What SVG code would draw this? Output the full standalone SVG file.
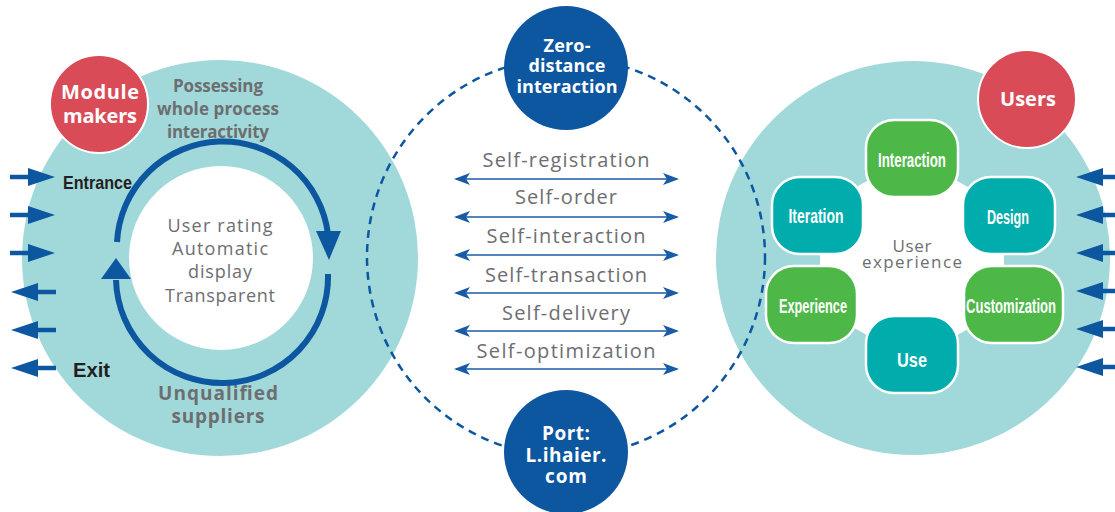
<svg xmlns="http://www.w3.org/2000/svg" width="1115" height="512" viewBox="0 0 1115 512">
<defs>
<style>
.teal{fill:#a1d9da}
.red{fill:#d94b57;stroke:#fff;stroke-width:2}
.navy{fill:#0d56a0}
.wt{fill:#fff;font-family:"Open Sans","Liberation Sans",sans-serif;font-weight:bold;text-anchor:middle}
.gr{fill:#6d6e71;font-family:"Open Sans","Liberation Sans",sans-serif;text-anchor:middle}
.grb{fill:#6d6e71;font-family:"Open Sans","Liberation Sans",sans-serif;font-weight:bold;text-anchor:middle}
.bk{fill:#231f20;font-family:"Liberation Sans",sans-serif;font-weight:bold}
.box{stroke:#fff;stroke-width:2.5}
.g{fill:#4db848}
.t{fill:#00adac}
.bx{fill:#fff;font-family:"Liberation Sans",sans-serif;font-weight:bold;text-anchor:middle;font-size:21px}
.dl{stroke:#1a5ba6;stroke-width:1.6;fill:none;marker-start:url(#ah);marker-end:url(#ah)}
.ring{stroke:#0d56a0;stroke-width:6;fill:none}
.sa{stroke:#0d56a0;stroke-width:4.5;fill:none}
</style>
<marker id="ah" viewBox="0 0 16 12" refX="14" refY="6" markerWidth="16" markerHeight="12" markerUnits="userSpaceOnUse" orient="auto-start-reverse">
<path d="M0,0 L16,6 L0,12 L4,6 Z" fill="#1a5ba6"/>
</marker>
</defs>

<g id="left-circle">
<circle class="teal" cx="220" cy="258" r="198"/>
<circle fill="#fff" cx="221" cy="258" r="92"/>
<text class="gr" font-size="18" x="220" y="232" textLength="105">User rating</text>
<text class="gr" font-size="18" x="220" y="255" textLength="96">Automatic</text>
<text class="gr" font-size="18" x="220" y="278" textLength="64">display</text>
<text class="gr" font-size="18" x="220" y="302" textLength="110">Transparent</text>
<text class="grb" font-size="17" x="218" y="92" textLength="90">Possessing</text>
<text class="grb" font-size="17" x="218" y="115" textLength="122">whole process</text>
<text class="grb" font-size="17" x="218" y="138" textLength="102">interactivity</text>
<text class="grb" font-size="19" x="218" y="400" textLength="120">Unqualified</text>
<text class="grb" font-size="19" x="218" y="423" textLength="93">suppliers</text>
<text class="bk" font-size="19" x="63" y="189" textLength="69" lengthAdjust="spacingAndGlyphs">Entrance</text>
<text class="bk" font-size="21" x="73" y="377" textLength="37" lengthAdjust="spacingAndGlyphs">Exit</text>
</g>

<g id="cycle">
<path class="ring" d="M117,242 A106,106 0 0 1 328,234"/>
<polygon class="navy" points="316,231 341,231 329,260"/>
<path class="ring" d="M328,274 A106,106 0 0 1 116,280"/>
<polygon class="navy" points="101,279 131,279 116,258"/>
</g>

<g id="module-makers">
<circle class="red" cx="99" cy="104" r="49"/>
<text class="wt" font-size="20" x="100" y="99" textLength="78">Module</text>
<text class="wt" font-size="20" x="100" y="123" textLength="74">makers</text>
</g>

<g id="right-circle">
<circle class="teal" cx="913" cy="258" r="197"/>
<polygon fill="#fff" points="912,156 1004,207 1004,309 912,360 820,309 820,207"/>
<text class="gr" font-size="17" x="912" y="252" textLength="39">User</text>
<text class="gr" font-size="17" x="912" y="268" textLength="100">experience</text>
</g>

<g id="users">
<circle class="red" cx="1027" cy="99" r="49"/>
<text class="wt" font-size="20" x="1028" y="106" textLength="56">Users</text>
</g>

<g id="interaction"><rect class="box g" x="866" y="120" width="92" height="77" rx="28"/><text class="bx" x="912" y="167" textLength="68" lengthAdjust="spacingAndGlyphs">Interaction</text></g>
<g id="design"><rect class="box t" x="963" y="177" width="92" height="77" rx="28"/><text class="bx" x="1008" y="224" textLength="42" lengthAdjust="spacingAndGlyphs">Design</text></g>
<g id="customization"><rect class="box g" x="964" y="266" width="99" height="77" rx="28"/><text class="bx" x="1011" y="313" textLength="90" lengthAdjust="spacingAndGlyphs">Customization</text></g>
<g id="use"><rect class="box t" x="866" y="316" width="92" height="77" rx="28"/><text class="bx" x="912" y="367" textLength="30" lengthAdjust="spacingAndGlyphs">Use</text></g>
<g id="experience"><rect class="box g" x="766" y="266" width="91" height="77" rx="28"/><text class="bx" x="813" y="313" textLength="68" lengthAdjust="spacingAndGlyphs">Experience</text></g>
<g id="iteration"><rect class="box t" x="772" y="177" width="91" height="77" rx="28"/><text class="bx" x="816" y="223" textLength="55" lengthAdjust="spacingAndGlyphs">Iteration</text></g>

<g id="connectors">
<circle cx="566" cy="257" r="199" fill="none" stroke="#0d56a0" stroke-width="2.5" stroke-dasharray="8,6"/>
<line class="dl" x1="456" y1="179" x2="677" y2="179"/>
<line class="dl" x1="456" y1="217" x2="677" y2="217"/>
<line class="dl" x1="456" y1="255" x2="677" y2="255"/>
<line class="dl" x1="456" y1="293" x2="677" y2="293"/>
<line class="dl" x1="456" y1="331" x2="677" y2="331"/>
<line class="dl" x1="456" y1="369" x2="677" y2="369"/>
<g fill="#0d56a0">
<line class="sa" x1="10" y1="177" x2="30" y2="177"/><polygon points="28,168 55,177 28,186"/>
<line class="sa" x1="10" y1="215" x2="30" y2="215"/><polygon points="28,206 55,215 28,224"/>
<line class="sa" x1="10" y1="253" x2="30" y2="253"/><polygon points="28,244 55,253 28,262"/>
<line class="sa" x1="36" y1="292" x2="56" y2="292"/><polygon points="38,283 11,292 38,301"/>
<line class="sa" x1="36" y1="330" x2="56" y2="330"/><polygon points="38,321 11,330 38,339"/>
<line class="sa" x1="36" y1="368" x2="56" y2="368"/><polygon points="38,359 11,368 38,377"/>
<line class="sa" x1="1100" y1="177" x2="1115" y2="177"/><polygon points="1103,168 1076,177 1103,186"/>
<line class="sa" x1="1100" y1="215" x2="1115" y2="215"/><polygon points="1103,206 1076,215 1103,224"/>
<line class="sa" x1="1100" y1="253" x2="1115" y2="253"/><polygon points="1103,244 1076,253 1103,262"/>
<line class="sa" x1="1100" y1="291" x2="1115" y2="291"/><polygon points="1103,282 1076,291 1103,300"/>
<line class="sa" x1="1100" y1="329" x2="1115" y2="329"/><polygon points="1103,320 1076,329 1103,338"/>
<line class="sa" x1="1100" y1="367" x2="1115" y2="367"/><polygon points="1103,358 1076,367 1103,376"/>
</g>
</g>

<g id="labels">
<text class="gr" font-size="20" x="566" y="167" textLength="167">Self-registration</text>
<text class="gr" font-size="20" x="566" y="204" textLength="102">Self-order</text>
<text class="gr" font-size="20" x="566" y="243" textLength="159">Self-interaction</text>
<text class="gr" font-size="20" x="566" y="282" textLength="162">Self-transaction</text>
<text class="gr" font-size="20" x="566" y="320" textLength="128">Self-delivery</text>
<text class="gr" font-size="20" x="566" y="358" textLength="179">Self-optimization</text>
</g>

<g id="zero-distance">
<circle class="navy" cx="566" cy="68" r="62"/>
<text class="wt" font-size="18" x="567" y="52" textLength="47">Zero-</text>
<text class="wt" font-size="18" x="567" y="72" textLength="77">distance</text>
<text class="wt" font-size="18" x="567" y="93" textLength="101">interaction</text>
</g>

<g id="port">
<circle class="navy" cx="566" cy="452" r="62"/>
<text class="wt" font-size="19" x="566" y="440" textLength="48">Port:</text>
<text class="wt" font-size="19" x="566" y="462" textLength="81">L.ihaier.</text>
<text class="wt" font-size="19" x="566" y="483" textLength="42">com</text>
</g>
</svg>
